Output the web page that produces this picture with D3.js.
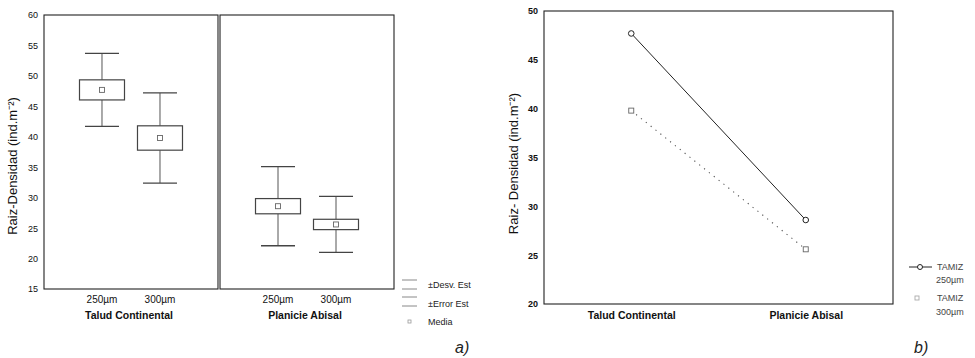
<!DOCTYPE html>
<html>
<head>
<meta charset="utf-8">
<script src="https://cdn.jsdelivr.net/npm/d3@7"></script>
<style>
  html, body { margin: 0; padding: 0; background: #fff; }
  svg { display: block; font-family: "Liberation Sans", Arial, sans-serif; }
</style>
</head>
<body>
<svg id="chart" width="975" height="358"></svg>
<script>
// Zones and sieve sizes
const zones = ["Talud Continental", "Planicie Abisal"];
const sieves = ["250µm", "300µm"];

// Mean density per zone, one array per sieve
const mean250 = [47.7, 28.6];
const mean300 = [39.8, 25.6];
// Standard error (box) and standard deviation (whiskers)
const se250 = [1.65, 1.25];
const se300 = [2.0, 0.85];
const sd250 = [6.0, 6.5];
const sd300 = [7.4, 4.6];

// Axis ticks
const ticksA = [15, 20, 25, 30, 35, 40, 45, 50, 55, 60];
const ticksB = [20, 25, 30, 35, 40, 45, 50];

const yTitleA = "Raiz-Densidad (ind.m\u207B\u00B2)";
const yTitleB = "Raiz- Densidad (ind.m\u207B\u00B2)";
const legendA = ["\u00B1Desv. Est", "\u00B1Error Est", "Media"];
const legendB = [["TAMIZ", "250µm"], ["TAMIZ", "300µm"]];

const svg = d3.select("#chart");
const ink = "#222";

// ---------- panel a: box plots per zone ----------
const stats = [];
zones.forEach((z, zi) => {
  stats.push({zone: z, sieve: sieves[0], mean: mean250[zi], se: se250[zi], sd: sd250[zi]});
  stats.push({zone: z, sieve: sieves[1], mean: mean300[zi], se: se300[zi], sd: sd300[zi]});
});

const yA = d3.scaleLinear().domain([15, 60]).range([289, 15]);
const xZone = d3.scaleBand().domain(zones).range([44, 394]).paddingInner(0.0115);
const xSieve = d3.scalePoint().domain(sieves).range([0, xZone.bandwidth()]).padding(1);
const boxW = 45, capW = 34;

const gA = svg.append("g");

// panel frames
gA.selectAll("rect.frame").data(zones).join("rect")
  .attr("class", "frame")
  .attr("x", d => xZone(d)).attr("y", yA(60))
  .attr("width", xZone.bandwidth()).attr("height", yA(15) - yA(60))
  .attr("fill", "none").attr("stroke", ink).attr("stroke-width", 1.1);

// y axis labels
const axA = gA.append("g").attr("transform", "translate(38,0)")
  .call(d3.axisLeft(yA).tickValues(ticksA).tickSize(0).tickPadding(0));
axA.select(".domain").remove();
axA.selectAll("text").attr("font-size", 9).attr("fill", "#111")
  .attr("font-family", "Liberation Sans, Arial, sans-serif");

gA.append("text")
  .attr("transform", `translate(17,${(yA(15) + yA(60)) / 2 + 14}) rotate(-90)`)
  .attr("text-anchor", "middle").attr("font-size", 13).attr("fill", "#111")
  .text(yTitleA);

const box = gA.selectAll("g.box").data(stats).join("g")
  .attr("class", "box")
  .attr("transform", d => `translate(${xZone(d.zone) + xSieve(d.sieve)},0)`);

// whiskers (± sd)
box.append("line")
  .attr("x1", 0).attr("x2", 0)
  .attr("y1", d => yA(d.mean + d.sd)).attr("y2", d => yA(d.mean + d.se))
  .attr("stroke", "#555");
box.append("line")
  .attr("x1", 0).attr("x2", 0)
  .attr("y1", d => yA(d.mean - d.se)).attr("y2", d => yA(d.mean - d.sd))
  .attr("stroke", "#555");
box.append("line")
  .attr("x1", -capW / 2).attr("x2", capW / 2)
  .attr("y1", d => yA(d.mean + d.sd)).attr("y2", d => yA(d.mean + d.sd))
  .attr("stroke", "#444").attr("stroke-width", 1.3);
box.append("line")
  .attr("x1", -capW / 2).attr("x2", capW / 2)
  .attr("y1", d => yA(d.mean - d.sd)).attr("y2", d => yA(d.mean - d.sd))
  .attr("stroke", "#444").attr("stroke-width", 1.3);
// box (± se)
box.append("rect")
  .attr("x", -boxW / 2).attr("width", boxW)
  .attr("y", d => yA(d.mean + d.se))
  .attr("height", d => yA(d.mean - d.se) - yA(d.mean + d.se))
  .attr("fill", "#fff").attr("stroke", "#444").attr("stroke-width", 1.2);
// mean marker
box.append("rect")
  .attr("x", -2.5).attr("width", 5)
  .attr("y", d => yA(d.mean) - 2.5).attr("height", 5)
  .attr("fill", "#fff").attr("stroke", "#666").attr("stroke-width", 0.9);

// category labels
box.append("text")
  .attr("y", 303).attr("text-anchor", "middle")
  .attr("font-size", 10).attr("fill", "#111")
  .text(d => d.sieve);
gA.selectAll("text.zone").data(zones).join("text")
  .attr("class", "zone")
  .attr("x", d => xZone(d) + xZone.bandwidth() / 2 - 2).attr("y", 319)
  .attr("text-anchor", "middle").attr("font-size", 10.5).attr("font-weight", "bold")
  .attr("fill", "#111").text(d => d);

// legend a
const legA = gA.append("g").attr("transform", "translate(402,0)");
[[280, 289], [297, 306]].forEach(pair => {
  pair.forEach(y => legA.append("line")
    .attr("x1", 0).attr("x2", 15).attr("y1", y).attr("y2", y)
    .attr("stroke", "#888"));
});
legA.append("rect").attr("x", 6).attr("y", 320).attr("width", 3).attr("height", 3)
  .attr("fill", "none").attr("stroke", "#999").attr("stroke-width", 0.8);
legA.selectAll("text").data(legendA).join("text")
  .attr("x", 26).attr("y", (d, i) => [288, 307, 325][i])
  .attr("font-size", 9).attr("fill", "#222").text(d => d);

svg.append("text").attr("x", 455).attr("y", 353)
  .attr("font-size", 16).attr("font-style", "italic").attr("fill", "#222")
  .text("a)");

// ---------- panel b: interaction of means ----------
const yB = d3.scaleLinear().domain([20, 50]).range([304, 11]);
const xB = d3.scalePoint().domain(zones).range([544, 893]).padding(0.5);
const gB = svg.append("g");

gB.append("rect")
  .attr("x", 544).attr("y", yB(50))
  .attr("width", 893 - 544).attr("height", yB(20) - yB(50))
  .attr("fill", "none").attr("stroke", ink).attr("stroke-width", 1.1);

const axB = gB.append("g").attr("transform", "translate(538,0)")
  .call(d3.axisLeft(yB).tickValues(ticksB).tickSize(0).tickPadding(0));
axB.select(".domain").remove();
axB.selectAll("text").attr("font-size", 9).attr("font-weight", "bold").attr("fill", "#111")
  .attr("font-family", "Liberation Sans, Arial, sans-serif");

gB.append("text")
  .attr("transform", `translate(518,${(yB(20) + yB(50)) / 2 + 6}) rotate(-90)`)
  .attr("text-anchor", "middle").attr("font-size", 13).attr("fill", "#111")
  .text(yTitleB);

const axBx = gB.append("g").attr("transform", "translate(0,304)")
  .call(d3.axisBottom(xB).tickSize(0).tickPadding(8));
axBx.select(".domain").remove();
axBx.selectAll("text").attr("font-size", 10.5).attr("font-weight", "bold").attr("fill", "#111")
  .attr("font-family", "Liberation Sans, Arial, sans-serif");

const line = d3.line().x((d, i) => xB(zones[i])).y(d => yB(d));

gB.append("path").datum(mean250).attr("d", line)
  .attr("fill", "none").attr("stroke", "#222").attr("stroke-width", 1);
gB.append("path").datum(mean300).attr("d", line)
  .attr("fill", "none").attr("stroke", "#555").attr("stroke-width", 1.1)
  .attr("stroke-dasharray", "1.2,5");

gB.selectAll("circle.m250").data(mean250).join("circle")
  .attr("class", "m250")
  .attr("cx", (d, i) => xB(zones[i])).attr("cy", d => yB(d)).attr("r", 2.8)
  .attr("fill", "#fff").attr("stroke", "#222").attr("stroke-width", 1);
gB.selectAll("rect.m300").data(mean300).join("rect")
  .attr("class", "m300")
  .attr("x", (d, i) => xB(zones[i]) - 2.5).attr("y", d => yB(d) - 2.5)
  .attr("width", 5).attr("height", 5)
  .attr("fill", "#fff").attr("stroke", "#666").attr("stroke-width", 0.9);

// legend b
const legB = gB.append("g");
legB.append("line").attr("x1", 909).attr("x2", 932).attr("y1", 267).attr("y2", 267)
  .attr("stroke", "#222");
legB.append("circle").attr("cx", 920).attr("cy", 267).attr("r", 2.5)
  .attr("fill", "#fff").attr("stroke", "#222");
legB.append("rect").attr("x", 915).attr("y", 296).attr("width", 4).attr("height", 4)
  .attr("fill", "none").attr("stroke", "#aaa").attr("stroke-width", 0.9);
legendB.forEach((pair, i) => {
  legB.append("text").attr("x", 937).attr("y", [270, 301][i])
    .attr("font-size", 9).attr("fill", "#444").text(pair[0]);
  legB.append("text").attr("x", 936).attr("y", [283, 315][i])
    .attr("font-size", 9).attr("fill", "#444").text(pair[1]);
});

svg.append("text").attr("x", 914).attr("y", 353)
  .attr("font-size", 16).attr("font-style", "italic").attr("fill", "#222")
  .text("b)");
</script>
</body>
</html>
